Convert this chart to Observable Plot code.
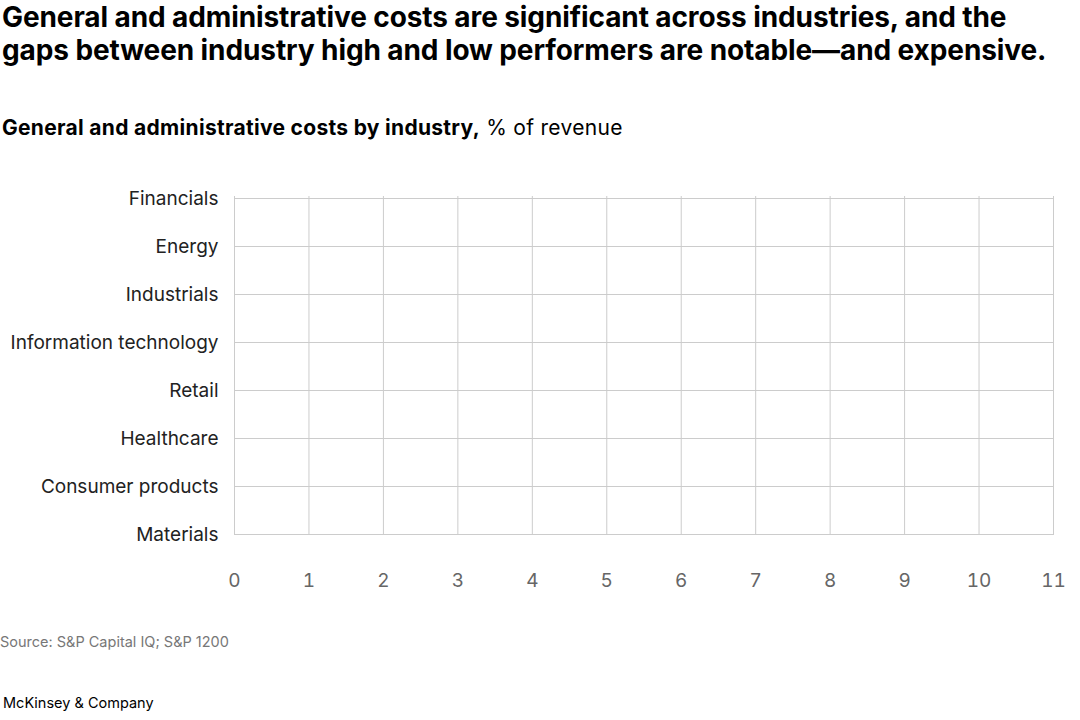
<!DOCTYPE html>
<html>
<head>
<meta charset="utf-8">
<script src="https://cdn.jsdelivr.net/npm/d3@7"></script>
<script src="https://cdn.jsdelivr.net/npm/@observablehq/plot@0.6"></script>
<style>
  html, body { margin: 0; padding: 0; background: #fff; width: 1080px; height: 720px; overflow: hidden; }
  body { position: relative; font-family: Inter, "Liberation Sans", Arial, sans-serif; color: #000; }
  #title { position: absolute; left: 2px; top: 1px; width: 1078px; font-size: 28px; font-weight: 700; line-height: 33px; letter-spacing: -0.1px; white-space: nowrap; }
  #subtitle { position: absolute; left: 2px; top: 114px; font-size: 21px; line-height: 27px; letter-spacing: 0.3px; }
  #subtitle b { font-weight: 700; }
  #chart { position: absolute; left: 0; top: 170px; }
  #source { position: absolute; left: 0; top: 633px; font-size: 14.5px; color: #777; }
  #brand { position: absolute; left: 3px; top: 694px; font-size: 14.5px; color: #000; }
</style>
</head>
<body>
<div id="title">General and administrative costs are significant across industries, and the<br>gaps between industry high and low performers are notable—and expensive.</div>
<div id="subtitle"><b>General and administrative costs by industry,</b> % of revenue</div>
<div id="chart"></div>
<div id="source">Source: S&amp;P Capital IQ; S&amp;P 1200</div>
<div id="brand">McKinsey &amp; Company</div>
<script>
const industries = ["Financials", "Energy", "Industrials", "Information technology", "Retail", "Healthcare", "Consumer products", "Materials"];
const xTicks = [0, 1, 2, 3, 4, 5, 6, 7, 8, 9, 10, 11];
const xDomain = [0, 11];

const chart = Plot.plot({
  width: 1080,
  height: 440,
  marginLeft: 234,
  marginRight: 27,
  marginTop: 26,
  marginBottom: 75,
  style: { fontFamily: "Inter, Liberation Sans, Arial, sans-serif", background: "#fff" },
  x: { domain: xDomain, ticks: xTicks, label: null },
  y: { type: "point", domain: industries, padding: 0, label: null },
  marks: [
    Plot.ruleY(industries, { y: d => d, stroke: "#cccccc", strokeOpacity: 1, strokeWidth: 1 }),
    Plot.ruleX(xTicks, { x: d => d, stroke: "#cccccc", strokeOpacity: 1, strokeWidth: 1 }),
    Plot.axisY({ tickSize: 0, tickPadding: 16, fontSize: 19, fill: "#222", label: null }),
    Plot.axisX(xTicks, { tickSize: 0, tickPadding: 38, fontSize: 19, fill: "#666", label: null })
  ]
});
document.getElementById("chart").appendChild(chart);
</script>
</body>
</html>
